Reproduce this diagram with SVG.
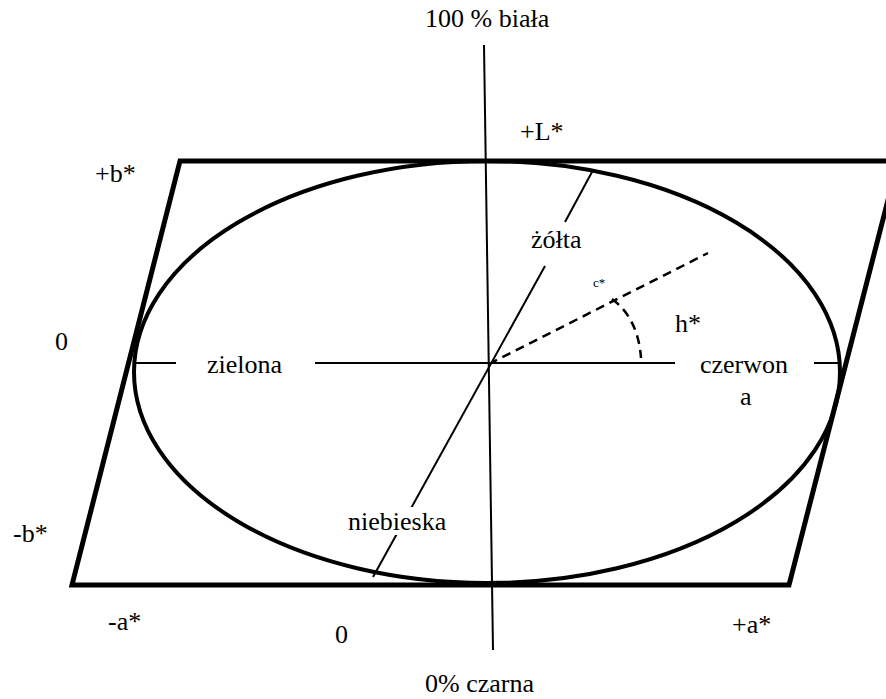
<svg xmlns="http://www.w3.org/2000/svg" width="886" height="699" viewBox="0 0 886 699">
<defs>
<style>
text{font-family:"Liberation Serif",serif !important;font-size:26px;fill:#000}
text.s{font-size:13px}
.thick{fill:none;stroke:#000;stroke-width:5;stroke-linejoin:miter}
.ell{fill:none;stroke:#000;stroke-width:4}
.ax{fill:none;stroke:#000;stroke-width:2}
.dash{fill:none;stroke:#000;stroke-width:2.5;stroke-dasharray:9 6}
</style>
</defs>
<rect width="886" height="699" fill="#fff"/>
<g id="shapes">
<polygon id="parallelogram" class="thick" points="180,161 898,161 789,585 72,585"/>
<ellipse id="ellipse" class="ell" cx="487" cy="372" rx="353" ry="211"/>
</g>
<g id="connectors">
<line class="ax" x1="484" y1="45" x2="493" y2="650"/>
<line class="ax" x1="136" y1="363" x2="176" y2="363"/>
<line class="ax" x1="315" y1="363" x2="675" y2="363"/>
<line class="ax" x1="814" y1="363" x2="840" y2="363"/>
<line class="ax" x1="592" y1="172" x2="565" y2="222"/>
<line class="ax" x1="545" y1="266" x2="373" y2="577"/>
<line class="dash" x1="489" y1="364" x2="708" y2="253"/>
<path class="dash" d="M612,299 Q638,318 641,358"/>
</g>
<rect x="344" y="507" width="108" height="28" fill="#fff"/>
<g id="labels" font-family="Liberation Serif" font-size="26">
<text x="425" y="27" font-family="Liberation Serif">100 % biała</text>
<text x="520" y="140" font-family="Liberation Serif">+L*</text>
<text x="95" y="182" font-family="Liberation Serif">+b*</text>
<text x="55" y="350" font-family="Liberation Serif">0</text>
<text x="207" y="373" font-family="Liberation Serif">zielona</text>
<text x="700" y="373" font-family="Liberation Serif">czerwon</text>
<text x="740" y="405" font-family="Liberation Serif">a</text>
<text x="531" y="248" font-family="Liberation Serif">żółta</text>
<text class="s" x="593" y="287" font-family="Liberation Serif" font-size="13">c*</text>
<text x="675" y="332" font-family="Liberation Serif">h*</text>
<text x="348" y="530" font-family="Liberation Serif">niebieska</text>
<text x="13" y="542" font-family="Liberation Serif">-b*</text>
<text x="108" y="630" font-family="Liberation Serif">-a*</text>
<text x="335" y="643" font-family="Liberation Serif">0</text>
<text x="732" y="633" font-family="Liberation Serif">+a*</text>
<text x="425" y="692" font-family="Liberation Serif">0% czarna</text>
</g>
</svg>
